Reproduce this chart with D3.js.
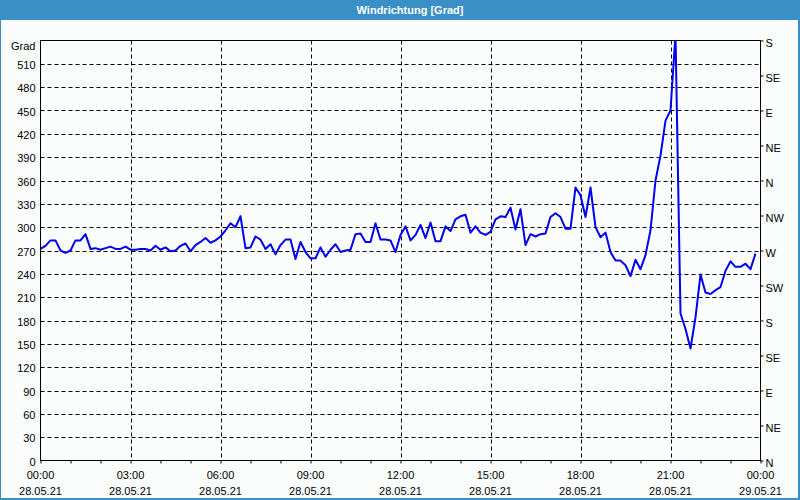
<!DOCTYPE html>
<html>
<head>
<meta charset="utf-8">
<script src="https://cdn.jsdelivr.net/npm/d3@7"></script>
<style>
  html, body { margin: 0; padding: 0; background: #ffffff; }
  svg { display: block; }
  text { font-family: "Liberation Sans", Arial, sans-serif; font-size: 11px; }
</style>
</head>
<body>
<svg id="chart" width="800" height="500"></svg>
<script>
// ---- data (10-minute readings, 28.05.21 00:00 .. 23:50) ----
const title = "Windrichtung [Grad]";
const unitLabel = "Grad";
const stepMinutes = 10;
const values = [
  272,276,283,283,270,267,270,283,283,291,
  272,273,271,273,275,272,272,275,271,271,
  272,272,270,276,271,274,269,270,276,279,
  269,277,281,286,280,283,288,296,305,300,
  314,273,274,288,284,272,278,265,277,284,
  284,259,281,268,260,260,274,262,271,278,
  268,270,271,291,292,281,281,305,284,284,
  283,268,290,301,283,290,303,286,306,282,
  282,301,295,310,314,316,293,301,293,290,
  294,310,314,313,325,297,323,277,291,288,
  291,292,313,318,313,298,298,351,341,313,
  351,300,287,293,268,257,257,251,237,258,
  246,264,296,360,392,437,450,548,189,169,
  144,184,239,216,214,219,223,244,256,249,
  249,253,246,266
];
const leftTicks = [0,30,60,90,120,150,180,210,240,270,300,330,360,390,420,450,480,510];
const rightTickValues = [0,45,90,135,180,225,270,315,360,405,450,495,540];
const rightTickLabels = ["N","NE","E","SE","S","SW","W","NW","N","NE","E","SE","S"];
const timeTickMinutes = [0,180,360,540,720,900,1080,1260,1440];
const timeLabels = ["00:00","03:00","06:00","09:00","12:00","15:00","18:00","21:00","00:00"];
const dateLabels = ["28.05.21","28.05.21","28.05.21","28.05.21","28.05.21","28.05.21","28.05.21","28.05.21","29.05.21"];

// ---- layout ----
const W = 800, H = 500;
const L = 40.5, R = 760.5, T = 40.5, B = 460.5;
const blue = "#3b8fc7";

const svg = d3.select("#chart");

// background & frame
svg.append("rect").attr("x",0).attr("y",0).attr("width",W).attr("height",H).attr("fill",blue);
svg.append("rect").attr("x",1).attr("y",20).attr("width",797).attr("height",478).attr("fill","#fbfdfd");
svg.append("text").attr("x",410).attr("y",10).attr("dy","0.35em")
  .attr("text-anchor","middle").attr("fill","#ffffff").attr("font-weight","bold")
  .text(title);

const x = d3.scaleLinear().domain([0,1440]).range([L,R]);
const y = d3.scaleLinear().domain([0,540]).range([B,T]);

// grid
const grid = svg.append("g").attr("stroke","#000").attr("stroke-width",1).attr("stroke-dasharray","4,3");
grid.selectAll("line.h").data(leftTicks.filter(v => v > 0)).enter().append("line")
  .attr("x1",L).attr("x2",R).attr("y1",d => Math.round(y(d))+0.5).attr("y2",d => Math.round(y(d))+0.5);
grid.selectAll("line.v").data(timeTickMinutes.filter(m => m > 0 && m < 1440)).enter().append("line")
  .attr("y1",T).attr("y2",B).attr("x1",d => Math.round(x(d))+0.5).attr("x2",d => Math.round(x(d))+0.5);

// clip
svg.append("clipPath").attr("id","clip").append("rect")
  .attr("x",L).attr("y",T).attr("width",R-L).attr("height",B-T);

// line
const line = d3.line().x((d,i) => x(i*stepMinutes)).y(d => y(d));
svg.append("path").datum(values).attr("d",line).attr("fill","none")
  .attr("stroke","#0000f0").attr("stroke-width",2).attr("stroke-linejoin","round")
  .attr("clip-path","url(#clip)");

// frame
svg.append("rect").attr("x",L).attr("y",T).attr("width",R-L).attr("height",B-T)
  .attr("fill","none").attr("stroke","#000").attr("stroke-width",1);

// left axis
const la = svg.append("g").attr("transform",`translate(${L},0)`)
  .call(d3.axisLeft(y).tickValues(leftTicks).tickSize(0).tickPadding(5));
la.select(".domain").remove();
la.selectAll("text").attr("font-family","Liberation Sans, Arial, sans-serif").attr("font-size",11).attr("fill","#000").attr("dy","0.42em");
svg.append("text").attr("x",35.5).attr("y",46.5).attr("dy","0.35em").attr("text-anchor","end").attr("fill","#000").text(unitLabel);

// right axis
const ra = svg.append("g").attr("transform",`translate(${R},0)`)
  .call(d3.axisRight(y).tickValues(rightTickValues).tickSize(3).tickPadding(2)
    .tickFormat((d,i) => rightTickLabels[i]));
ra.select(".domain").remove();
ra.selectAll("line").attr("stroke","#000");
ra.selectAll("text").attr("font-family","Liberation Sans, Arial, sans-serif").attr("font-size",11).attr("fill","#000").attr("dy","0.55em");

// bottom axis (hourly ticks)
const ba = svg.append("g").attr("transform",`translate(0,${B})`)
  .call(d3.axisBottom(x).tickValues(d3.range(0,1441,60)).tickSize(3).tickFormat(""));
ba.select(".domain").remove();
ba.selectAll("line").attr("stroke","#000");

const lbl = svg.append("g").attr("text-anchor","middle").attr("fill","#000");
lbl.selectAll("text.t").data(timeTickMinutes).enter().append("text")
  .attr("x",d => x(d)).attr("y",475).attr("dy","0.35em").text((d,i) => timeLabels[i]);
lbl.selectAll("text.d").data(timeTickMinutes).enter().append("text")
  .attr("x",d => x(d)).attr("y",491).attr("dy","0.35em").text((d,i) => dateLabels[i]);
</script>
</body>
</html>
